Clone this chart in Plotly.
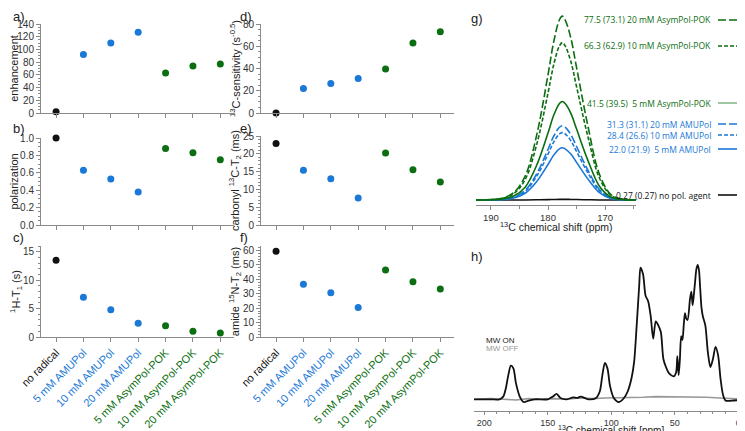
import plotly.graph_objects as go

W, H = 745, 431

# ---- data ----
samples = ["no radical", "5 mM AMUPol", "10 mM AMUPol", "20 mM AMUPol",
           "5 mM AsymPol-POK", "10 mM AsymPol-POK", "20 mM AsymPol-POK"]
enhancement = [2, 92, 110, 127, 63, 74, 77]
polarization = [1.0, 0.63, 0.53, 0.38, 0.88, 0.83, 0.75]
h_t1 = [13.5, 7.0, 4.8, 2.4, 2.0, 1.0, 0.7]
c_sensitivity = [0, 22, 26.5, 31, 39.5, 63, 73]
carbonyl_t2 = [22.9, 15.4, 13.0, 7.6, 20.2, 15.5, 12.1]
amide_t2 = [59.3, 36.6, 30.7, 20.5, 46.3, 38.3, 33.3]

# g) carbonyl spectra: normalised line shape, scaled by enhancement
g_ppm = [193, 190, 188, 186, 184, 182, 180, 179, 178, 177.5, 177, 176, 175, 173, 171, 169, 167, 164]
g_shape = [0, 0.003, 0.01, 0.04, 0.13, 0.35, 0.68, 0.86, 0.98, 1.0, 0.98, 0.88, 0.72, 0.4, 0.14, 0.03, 0.005, 0]
g_heights = [0.27, 22.0, 28.4, 31.3, 41.5, 66.3, 77.5]
g_labels = ["0.27 (0.27) no pol. agent", "22.0 (21.9)  5 mM AMUPol", "28.4 (26.6) 10 mM AMUPol",
            "31.3 (31.1) 20 mM AMUPol", "41.5 (39.5)  5 mM AsymPol-POK",
            "66.3 (62.9) 10 mM AsymPol-POK", "77.5 (73.1) 20 mM AsymPol-POK"]

# h) full 13C spectrum, MW on / off
h_ppm = [208, 195, 188, 185, 183, 181, 179, 177, 175, 172, 169, 165, 160, 150, 146, 143, 140, 135,
         130, 127, 124, 118, 112, 109, 107, 105, 103, 101, 98, 94, 90, 87, 84, 82, 80, 78, 77, 75,
         73, 71, 69, 67, 65, 63, 61, 59, 57, 55, 53, 51, 49, 48, 47, 46, 45, 44, 43, 42, 41, 40, 38,
         37, 36, 35, 34, 33, 32, 31, 30, 29, 28, 26, 24, 22, 20, 18, 16, 14, 12, 10, 5, -6]
h_on = [0, 0, 0, 0.02, 0.08, 0.18, 0.25, 0.23, 0.12, 0.02, -0.02, -0.01, 0, 0, 0.02, 0.04, 0.01,
        0, 0.015, 0.01, 0.02, 0, 0.01, 0.06, 0.18, 0.27, 0.23, 0.1, 0.01, -0.02, 0.01, 0.06, 0.16,
        0.28, 0.55, 0.85, 0.98, 0.93, 0.77, 0.73, 0.62, 0.45, 0.58, 0.55, 0.5, 0.3, 0.24, 0.2, 0.18,
        0.17, 0.2, 0.32, 0.18, 0.3, 0.47, 0.44, 0.55, 0.64, 0.6, 0.59, 0.75, 0.8, 0.7, 0.78, 0.88,
        0.97, 1.0, 0.96, 0.82, 0.68, 0.62, 0.55, 0.35, 0.24, 0.3, 0.39, 0.33, 0.15, 0.03, -0.01, -0.01, 0]
h_off_ppm = [208, 195, 185, 175, 165, 155, 145, 135, 125, 115, 105, 95, 85, 75, 65, 55, 45, 35, 25,
             15, 5, -6]
h_off = [0, 0.005, 0, -0.005, 0.005, 0, 0.005, 0, 0.01, 0.005, 0.01, 0.01, 0.015, 0.015, 0.02,
         0.02, 0.02, 0.02, 0.015, 0.01, 0.005, 0]

BLACK, BLUE, GREEN = "#111111", "#1a78d6", "#0b6e10"
colors = [BLACK, BLUE, BLUE, BLUE, GREEN, GREEN, GREEN]
AX = "#8a8a8a"
FONT = "Liberation Sans, Arial, sans-serif"


def fx(p):
    return p / W


def fy(p):
    return 1 - p / H


def px_x(a, b):
    return [fx(a), fx(b)]


def px_y(top, bottom):
    return [fy(bottom), fy(top)]


fig = go.Figure()

ticktext = ['<span style="color:%s">%s</span>' % (c, s) for c, s in zip(colors, samples)]

panels = [
    # name, values, x px, y px, range, dtick, title, show ticklabels
    ("a", enhancement, (33, 226), (16, 105), [0, 140], 20, "enhancement", False),
    ("b", polarization, (33, 226), (130, 217), [0, 1.0], 0.2, "polarization", False),
    ("c", h_t1, (33, 226), (238, 329), [0, 16], 5, "<sup>1</sup>H-T<sub>1</sub> (s)", True),
    ("d", c_sensitivity, (253, 446), (16, 105), [0, 80], 20,
     "<sup>13</sup>C-sensitivity (s<sup>-0.5</sup>)", False),
    ("e", carbonyl_t2, (253, 446), (128, 217), [0, 25], 5,
     "carbonyl <sup>13</sup>C-T<sub>2</sub> (ms)", False),
    ("f", amide_t2, (253, 446), (238, 329), [0, 63], 10,
     "amide <sup>15</sup>N-T<sub>2</sub> (ms)", True),
]

layout = {}
for i, (name, vals, xp, yp, yr, dt, title, showlab) in enumerate(panels):
    n = i + 1
    xa = "x" if n == 1 else "x%d" % n
    ya = "y" if n == 1 else "y%d" % n
    fig.add_trace(go.Scatter(x=list(range(7)), y=vals, mode="markers", xaxis=xa, yaxis=ya,
                             marker=dict(color=colors, size=7), cliponaxis=False,
                             showlegend=False))
    layout["xaxis" if n == 1 else "xaxis%d" % n] = dict(
        domain=px_x(*xp), anchor=ya, range=[-0.55, 6.5], showgrid=False, zeroline=False,
        showline=True, linecolor=AX, ticks="outside", ticklen=4, tickcolor=AX, automargin=False,
        tickvals=list(range(7)), ticktext=ticktext if showlab else [""] * 7,
        tickangle=-45, tickfont=dict(size=11, family=FONT))
    layout["yaxis" if n == 1 else "yaxis%d" % n] = dict(
        domain=px_y(*yp), anchor=xa, range=yr, dtick=dt, showgrid=False, zeroline=False,
        showline=True, linecolor=AX, ticks="outside", ticklen=4, tickcolor=AX, automargin=False,
        minor=dict(ticks="outside", ticklen=2, tickcolor=AX),
        tickfont=dict(size=10, family=FONT, color="#333"),
        title=dict(text=title, font=dict(size=11, family=FONT, color="#222"), standoff=0))
    if name == "b":
        layout["yaxis2"]["tickformat"] = ".1f"

# g) carbonyl region
g_styles = [(BLACK, "solid"), (BLUE, "solid"), (BLUE, "4px,2px"), (BLUE, "8px,3px"),
            (GREEN, "solid"), (GREEN, "4px,2px"), (GREEN, "8px,3px")]
for h, (c, d) in zip(g_heights, g_styles):
    fig.add_trace(go.Scatter(x=g_ppm, y=[s * h for s in g_shape], mode="lines", line_shape="spline",
                             line=dict(color=c, width=1.6, dash=d), xaxis="x7", yaxis="y7",
                             cliponaxis=False, showlegend=False))
layout["xaxis7"] = dict(domain=px_x(468, 628), anchor="y7", range=[192.6, 164.6], showgrid=False,
                        zeroline=False, showline=True, linecolor=AX, ticks="outside", ticklen=4,
                        tickcolor=AX, tickvals=[190, 180, 170], automargin=False,
                        minor=dict(ticks="outside", ticklen=3, tickcolor=AX, dtick=5),
                        tickfont=dict(size=9.5, family=FONT, color="#333"))
layout["yaxis7"] = dict(domain=px_y(5, 197), anchor="x7", range=[-2.1, 78.8], visible=False)

# g) legend entries as text + line samples
leg_y = [187, 141, 127, 116, 95, 38, 12]
annotations = []
shapes = []
for lab, (c, d), yy in zip(g_labels, g_styles, leg_y):
    annotations.append(dict(text=lab, x=fx(705), y=fy(yy), xanchor="right",
                            font=dict(size=8.5, family="Open Sans", color=c)))
    shapes.append(dict(type="line", xref="paper", yref="paper", x0=fx(710), x1=fx(737),
                       y0=fy(yy), y1=fy(yy),
                       line=dict(color=c, width=1.6 if d != "solid" or c != GREEN else 0.8,
                                 dash=d)))

# h) full spectrum
fig.add_trace(go.Scatter(x=h_off_ppm, y=h_off, mode="lines", line=dict(color="#999999", width=1.6),
                         xaxis="x8", yaxis="y8", showlegend=False))
fig.add_trace(go.Scatter(x=h_ppm, y=h_on, mode="lines", line_shape="spline",
                         line=dict(color=BLACK, width=1.8, smoothing=0.8), xaxis="x8", yaxis="y8",
                         showlegend=False))
layout["xaxis8"] = dict(domain=px_x(466, 738), anchor="y8", range=[208, -6], showgrid=False,
                        zeroline=False, showline=True, linecolor=AX, ticks="outside", ticklen=3,
                        tickcolor=AX, tickvals=[200, 150, 100, 50, 0], automargin=False,
                        minor=dict(ticks="outside", ticklen=2, tickcolor=AX, dtick=10),
                        tickfont=dict(size=9, family=FONT, color="#333"))
layout["yaxis8"] = dict(domain=px_y(252, 403), anchor="x8", range=[-0.087, 1.036], visible=False)

annotations += [
    dict(text="MW ON", x=fx(476), y=fy(332), font=dict(size=8, color="#222")),
    dict(text="MW OFF", x=fx(476), y=fy(340), font=dict(size=8, color="#999")),
    dict(text="<sup>13</sup>C chemical shift (ppm)", x=fx(548), y=fy(219), xanchor="center",
         font=dict(size=10.5, family=FONT, color="#222")),
    dict(text="<sup>13</sup>C chemical shift [ppm]", x=fx(603), y=fy(430), xanchor="center",
         yanchor="bottom", font=dict(size=10, family=FONT, color="#222")),
]
for t, xx, yy in [("a)", 3, 8), ("b)", 3, 120), ("c)", 3, 230), ("d)", 230, 8), ("e)", 230, 120),
                  ("f)", 230, 230), ("g)", 461, 10), ("h)", 461, 248)]:
    annotations.append(dict(text=t, x=fx(xx), y=fy(yy),
                            font=dict(size=13, family=FONT, color="#222")))
for a in annotations:
    a.setdefault("xref", "paper")
    a.setdefault("yref", "paper")
    a.setdefault("showarrow", False)
    a.setdefault("xanchor", "left")
    a.setdefault("yanchor", "middle")

fig.update_layout(width=W, height=H, margin=dict(l=0, r=0, t=0, b=0),
                  plot_bgcolor="white", paper_bgcolor="white",
                  font=dict(family=FONT), annotations=annotations, shapes=shapes, **layout)
fig.write_html("out.html")
